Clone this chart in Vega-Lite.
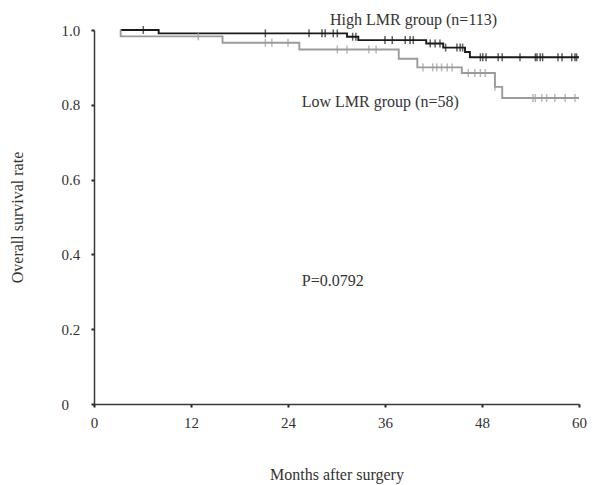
{
  "$schema": "https://vega.github.io/schema/vega-lite/v6.json",
  "width": 485,
  "height": 374,
  "autosize": {"type": "none"},
  "padding": {"left": 94, "top": 30, "right": 20, "bottom": 81},
  "background": "white",
  "config": {
    "view": {"stroke": null},
    "font": "Liberation Serif",
    "axis": {
      "grid": false,
      "domainColor": "#3a3a3a",
      "domainWidth": 1.5,
      "tickColor": "#222",
      "tickWidth": 2,
      "tickSize": 3,
      "labelFont": "Liberation Serif",
      "labelFontSize": 15,
      "labelColor": "#333",
      "titleFont": "Liberation Serif",
      "titleFontSize": 16,
      "titleFontWeight": "normal",
      "titleColor": "#333"
    }
  },
  "datasets": {
    "curve": [
      {"group": "High", "month": 3.3, "surv": 1.0},
      {"group": "High", "month": 8.0, "surv": 0.991},
      {"group": "High", "month": 31.3, "surv": 0.982},
      {"group": "High", "month": 32.7, "surv": 0.973},
      {"group": "High", "month": 41.1, "surv": 0.964},
      {"group": "High", "month": 43.2, "surv": 0.953},
      {"group": "High", "month": 45.9, "surv": 0.941},
      {"group": "High", "month": 46.5, "surv": 0.927},
      {"group": "High", "month": 60.0, "surv": 0.927},
      {"group": "Low", "month": 3.3, "surv": 1.0},
      {"group": "Low", "month": 3.3, "surv": 0.983},
      {"group": "Low", "month": 15.9, "surv": 0.966},
      {"group": "Low", "month": 25.4, "surv": 0.948},
      {"group": "Low", "month": 37.7, "surv": 0.923},
      {"group": "Low", "month": 40.0, "surv": 0.900},
      {"group": "Low", "month": 45.5, "surv": 0.885},
      {"group": "Low", "month": 49.6, "surv": 0.848},
      {"group": "Low", "month": 50.5, "surv": 0.818},
      {"group": "Low", "month": 60.0, "surv": 0.818}
    ],
    "censor": [
      {"group": "High", "month": 6.1, "surv": 1.0},
      {"group": "High", "month": 21.2, "surv": 0.991},
      {"group": "High", "month": 26.6, "surv": 0.991},
      {"group": "High", "month": 28.2, "surv": 0.991},
      {"group": "High", "month": 28.6, "surv": 0.991},
      {"group": "High", "month": 29.6, "surv": 0.991},
      {"group": "High", "month": 30.1, "surv": 0.991},
      {"group": "High", "month": 32.0, "surv": 0.982},
      {"group": "High", "month": 32.4, "surv": 0.982},
      {"group": "High", "month": 36.0, "surv": 0.973},
      {"group": "High", "month": 36.9, "surv": 0.973},
      {"group": "High", "month": 38.5, "surv": 0.973},
      {"group": "High", "month": 39.1, "surv": 0.973},
      {"group": "High", "month": 39.5, "surv": 0.973},
      {"group": "High", "month": 41.6, "surv": 0.964},
      {"group": "High", "month": 42.2, "surv": 0.964},
      {"group": "High", "month": 42.8, "surv": 0.964},
      {"group": "High", "month": 43.5, "surv": 0.953},
      {"group": "High", "month": 44.9, "surv": 0.953},
      {"group": "High", "month": 45.3, "surv": 0.953},
      {"group": "High", "month": 45.6, "surv": 0.953},
      {"group": "High", "month": 47.8, "surv": 0.927},
      {"group": "High", "month": 48.1, "surv": 0.927},
      {"group": "High", "month": 48.5, "surv": 0.927},
      {"group": "High", "month": 50.0, "surv": 0.927},
      {"group": "High", "month": 50.5, "surv": 0.927},
      {"group": "High", "month": 52.7, "surv": 0.927},
      {"group": "High", "month": 54.6, "surv": 0.927},
      {"group": "High", "month": 54.8, "surv": 0.927},
      {"group": "High", "month": 55.2, "surv": 0.927},
      {"group": "High", "month": 55.5, "surv": 0.927},
      {"group": "High", "month": 57.4, "surv": 0.927},
      {"group": "High", "month": 57.9, "surv": 0.927},
      {"group": "High", "month": 59.1, "surv": 0.927},
      {"group": "High", "month": 59.5, "surv": 0.927},
      {"group": "High", "month": 59.7, "surv": 0.927},
      {"group": "Low", "month": 12.9, "surv": 0.983},
      {"group": "Low", "month": 21.2, "surv": 0.966},
      {"group": "Low", "month": 22.0, "surv": 0.966},
      {"group": "Low", "month": 24.0, "surv": 0.966},
      {"group": "Low", "month": 30.1, "surv": 0.948},
      {"group": "Low", "month": 31.3, "surv": 0.948},
      {"group": "Low", "month": 34.0, "surv": 0.948},
      {"group": "Low", "month": 34.9, "surv": 0.948},
      {"group": "Low", "month": 40.7, "surv": 0.900},
      {"group": "Low", "month": 41.9, "surv": 0.900},
      {"group": "Low", "month": 42.4, "surv": 0.900},
      {"group": "Low", "month": 43.0, "surv": 0.900},
      {"group": "Low", "month": 43.7, "surv": 0.900},
      {"group": "Low", "month": 44.3, "surv": 0.900},
      {"group": "Low", "month": 46.3, "surv": 0.885},
      {"group": "Low", "month": 47.1, "surv": 0.885},
      {"group": "Low", "month": 47.8, "surv": 0.885},
      {"group": "Low", "month": 48.4, "surv": 0.885},
      {"group": "Low", "month": 49.6, "surv": 0.848},
      {"group": "Low", "month": 54.3, "surv": 0.818},
      {"group": "Low", "month": 54.6, "surv": 0.818},
      {"group": "Low", "month": 55.4, "surv": 0.818},
      {"group": "Low", "month": 56.0, "surv": 0.818},
      {"group": "Low", "month": 57.0, "surv": 0.818},
      {"group": "Low", "month": 58.3, "surv": 0.818},
      {"group": "Low", "month": 59.5, "surv": 0.818}
    ],
    "notes": [
      {"label": "High LMR group (n=113)", "month": 29.2, "surv": 1.027},
      {"label": "Low LMR group (n=58)", "month": 25.7, "surv": 0.807},
      {"label": "P=0.0792", "month": 25.7, "surv": 0.33}
    ]
  },
  "layer": [
    {
      "data": {"name": "curve"},
      "mark": {"type": "line", "interpolate": "step-after", "strokeWidth": 1.9},
      "encoding": {
        "x": {
          "field": "month", "type": "quantitative",
          "scale": {"domain": [0, 60], "nice": false},
          "axis": {"values": [0, 12, 24, 36, 48, 60], "title": "Months after surgery", "labelPadding": 8, "titlePadding": 36, "labelFlush": false}
        },
        "y": {
          "field": "surv", "type": "quantitative",
          "scale": {"domain": [0, 1], "nice": false},
          "axis": {"values": [0, 0.2, 0.4, 0.6, 0.8, 1.0], "title": "Overall survival rate", "labelAlign": "left", "labelPadding": 30, "titlePadding": 36, "labelExpr": "datum.value == 0 ? '0' : format(datum.value, '.1f')", "labelFlush": false}
        },
        "color": {"field": "group", "type": "nominal", "scale": {"domain": ["High", "Low"], "range": ["#1a1a1a", "#9b9b9b"]}, "legend": null},
        "detail": {"field": "group"}
      }
    },
    {
      "data": {"name": "censor"},
      "mark": {"type": "tick", "orient": "vertical", "size": 8, "thickness": 1.5},
      "encoding": {
        "x": {"field": "month", "type": "quantitative"},
        "y": {"field": "surv", "type": "quantitative"},
        "color": {"field": "group", "type": "nominal", "legend": null}
      }
    },
    {
      "data": {"name": "notes"},
      "mark": {"type": "text", "align": "left", "baseline": "middle", "fontSize": 16, "font": "Liberation Serif", "color": "#333"},
      "encoding": {
        "x": {"field": "month", "type": "quantitative"},
        "y": {"field": "surv", "type": "quantitative"},
        "text": {"field": "label"}
      }
    }
  ]
}
